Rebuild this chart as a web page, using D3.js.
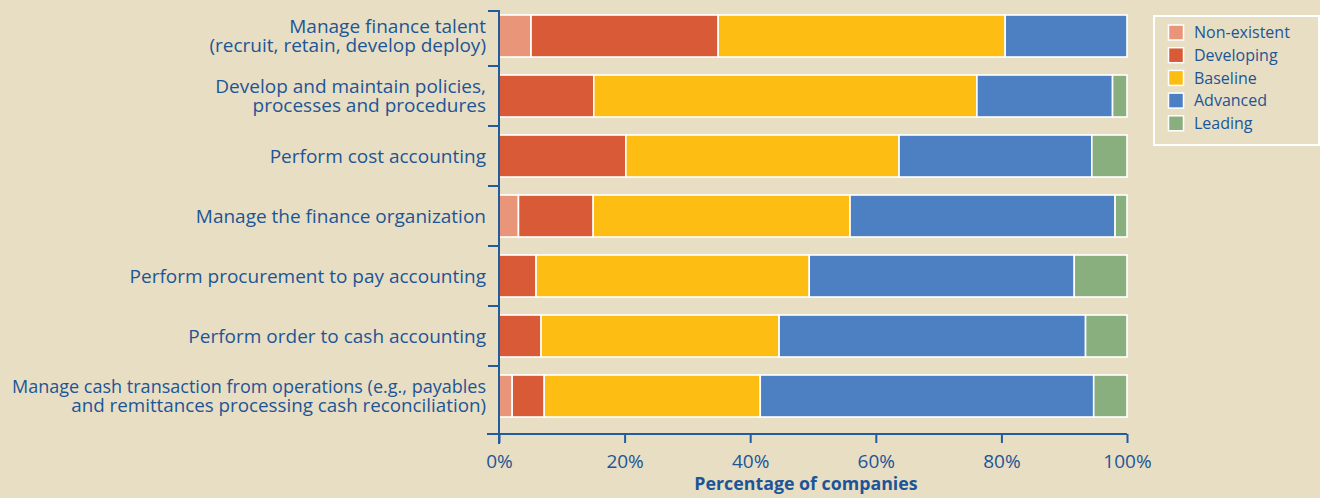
<!DOCTYPE html>
<html><head><meta charset="utf-8">
<script src="https://cdn.jsdelivr.net/npm/d3@7"></script>
<style>
html,body{margin:0;padding:0;background:#E8DEC3;}
svg{display:block;}
text{font-family:"Open Sans","Noto Sans",sans-serif;fill:#1D5596;}
</style></head>
<body><svg id="chart" width="1320" height="498"></svg>
<script>
const categories = [
  ["Manage finance talent", "(recruit, retain, develop deploy)"],
  ["Develop and maintain policies,", "processes and procedures"],
  ["Perform cost accounting"],
  ["Manage the finance organization"],
  ["Perform procurement to pay accounting"],
  ["Perform order to cash accounting"],
  ["Manage cash transaction from operations (e.g., payables", "and remittances processing cash reconciliation)"]
];
const seriesNames = ["Non-existent", "Developing", "Baseline", "Advanced", "Leading"];
const nonExistent = [5.1, 0, 0, 3.1, 0, 0, 2.1];
const developing  = [29.8, 15.1, 20.2, 11.9, 5.9, 6.7, 5.1];
const baseline    = [45.7, 61.0, 43.5, 40.9, 43.5, 37.9, 34.4];
const advanced    = [19.4, 21.6, 30.7, 42.2, 42.2, 48.8, 53.1];
const leading     = [0, 2.3, 5.6, 1.9, 8.4, 6.6, 5.3];
const xTicks = [0, 20, 40, 60, 80, 100];
const colors = ["#E8957A", "#D95A36", "#FEBD13", "#4C80C2", "#8AAF7E"];

const seriesValues = [nonExistent, developing, baseline, advanced, leading];
const rows = categories.map((c, i) => {
  const r = {key: i};
  seriesNames.forEach((s, j) => r[s] = seriesValues[j][i]);
  return r;
});
const stack = d3.stack().keys(seriesNames)(rows);

const svg = d3.select("#chart");
const x = d3.scaleLinear().domain([0, 100]).range([499, 1127]);
const y = d3.scaleBand().domain(d3.range(categories.length)).range([6, 426]).paddingInner(0.3).paddingOuter(0.15);
const axisColor = "#235C9C";

// bars
svg.append("g").selectAll("g").data(stack).join("g")
  .attr("fill", (d, i) => colors[i])
  .selectAll("rect").data(d => d.filter(p => p[1] - p[0] > 0)).join("rect")
  .attr("x", d => x(d[0]))
  .attr("width", d => x(d[1]) - x(d[0]))
  .attr("y", d => y(d.data.key))
  .attr("height", y.bandwidth())
  .attr("stroke", "#fff").attr("stroke-width", 1.6);

// y axis
const ya = svg.append("g");
ya.append("line").attr("x1", 499).attr("x2", 499).attr("y1", 10).attr("y2", 444)
  .attr("stroke", axisColor).attr("stroke-width", 2);
const step = y.step();
const boundaries = d3.range(categories.length).map(i => i === 0 ? 11 : y(i) - (step - y.bandwidth()) / 2);
ya.selectAll("line.t").data(boundaries).join("line").attr("class", "t")
  .attr("x1", 488).attr("x2", 499).attr("y1", d => d).attr("y2", d => d)
  .attr("stroke", axisColor).attr("stroke-width", 2);

// labels
const lab = svg.append("g");
const maxW = 474;
categories.forEach((lines, i) => {
  const cy = y(i) + y.bandwidth() / 2;
  const lh = 19.5;
  lines.forEach((l, k) => {
    const t = lab.append("text").attr("text-anchor", "end").attr("font-size", 19)
      .attr("x", 486)
      .attr("y", cy + (k - (lines.length - 1) / 2) * lh)
      .attr("dy", "0.35em").text(l);
    const w = t.node().getComputedTextLength();
    if (w > maxW - (k > 0 ? 60 : 0) && lines.length > 1) {
      const target = k === 0 ? maxW : maxW * 0.875;
      if (w > target) t.attr("textLength", target).attr("lengthAdjust", "spacingAndGlyphs");
    }
  });
});

// x axis
const xa = svg.append("g").attr("transform", "translate(0,434)");
xa.call(d3.axisBottom(x).tickValues(xTicks).tickFormat(d => d + "%").tickSize(9).tickSizeOuter(0));
xa.select(".domain").remove();
xa.append("line").attr("x1", 487).attr("x2", 1127).attr("y1", 0).attr("y2", 0)
  .attr("stroke", axisColor).attr("stroke-width", 2);
xa.selectAll(".tick line").attr("stroke", axisColor).attr("stroke-width", 2);
xa.selectAll(".tick text").attr("fill", "#1D5596").attr("font-size", 19)
  .attr("font-family", "'Open Sans','Noto Sans',sans-serif").attr("dy", "0.35em").attr("y", 27);
svg.append("text").attr("x", 806).attr("y", 490).attr("text-anchor", "middle")
  .attr("font-size", 17.8).attr("font-weight", "bold").text("Percentage of companies");

// legend
const lg = svg.append("g");
lg.append("rect").attr("x", 1154).attr("y", 16).attr("width", 165).attr("height", 129)
  .attr("fill", "none").attr("stroke", "#fff").attr("stroke-width", 2);
seriesNames.forEach((s, i) => {
  const cy = 32.5 + i * 22.7;
  lg.append("rect").attr("x", 1168.5).attr("y", cy - 7.5).attr("width", 15).attr("height", 15)
    .attr("fill", colors[i]).attr("stroke", "#fff").attr("stroke-width", 1.5);
  lg.append("text").attr("x", 1194).attr("y", cy).attr("dy", "0.35em").attr("font-size", 16).text(s);
});
</script></body></html>
